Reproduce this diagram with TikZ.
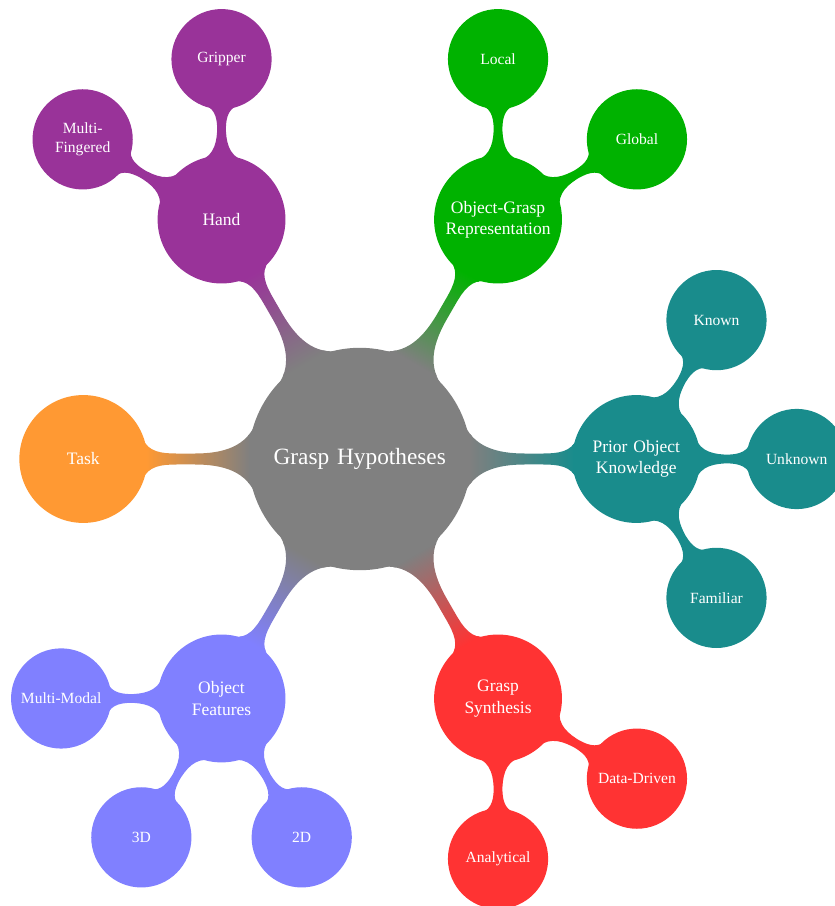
\documentclass[tikz,border=0pt]{standalone}
\usepackage{fontspec}
\setmainfont{Liberation Serif}
\usetikzlibrary{mindmap}
\begin{document}
\begin{tikzpicture}[
  mindmap, concept color=gray, text=white,
  level 1 concept/.append style={level distance=5cm, minimum size=2.27cm,
    text width=2.1cm, font=\small, inner sep=0pt},
  level 2 concept/.append style={level distance=2.9cm, minimum size=1.77cm,
    text width=1.6cm, font=\footnotesize, inner sep=0pt},
]
\useasboundingbox (-6.506,-8.083) rectangle (8.593,8.30);
\node (root) [concept, minimum size=3.98cm, text width=3.5cm, font=\large, inner sep=0pt] {Grasp Hypotheses}
  child[grow=120, concept color=violet!80] { node (hand) [concept] {Hand}
    child[grow=90]  { node (gripper) [concept] {Gripper} }
    child[grow=150] { node (multifingered) [concept] {Multi-\\Fingered} }
  }
  child[grow=60, concept color=green!70!black] { node (ogr) [concept] {Object-Grasp\\Representation}
    child[grow=90] { node (local) [concept] {Local} }
    child[grow=30] { node (global) [concept] {Global} }
  }
  child[grow=0, concept color=teal!90] { node (prior) [concept] {Prior Object\\Knowledge}
    child[grow=60]  { node (known) [concept] {Known} }
    child[grow=0]   { node (unknown) [concept] {Unknown} }
    child[grow=-60] { node (familiar) [concept] {Familiar} }
  }
  child[grow=-60, concept color=red!80] { node (synthesis) [concept] {Grasp\\Synthesis}
    child[grow=-30] { node (datadriven) [concept] {Data-Driven} }
    child[grow=-90] { node (analytical) [concept] {Analytical} }
  }
  child[grow=-120, concept color=blue!50] { node (features) [concept] {Object\\Features}
    child[grow=180]  { node (multimodal) [concept] {Multi-Modal} }
    child[grow=-120] { node (threed) [concept] {3D} }
    child[grow=-60]  { node (twod) [concept] {2D} }
  }
  child[grow=180, concept color=orange!80] { node (task) [concept] {Task} };
\end{tikzpicture}
\end{document}
